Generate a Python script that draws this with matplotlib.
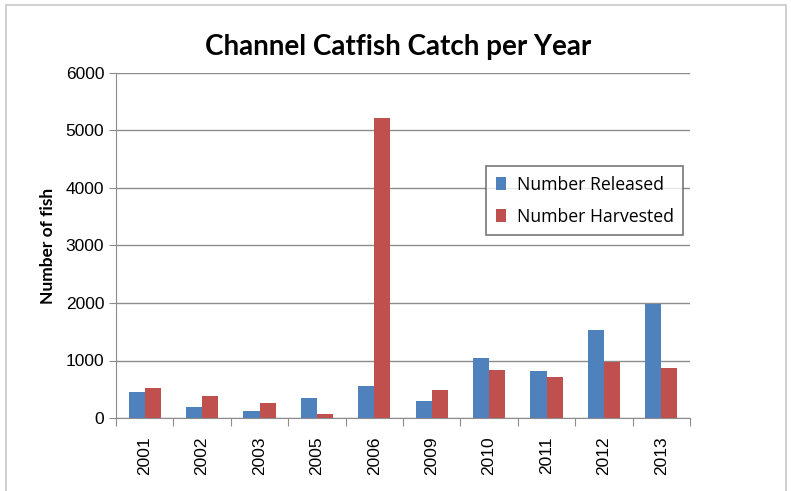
import numpy as np
import matplotlib.pyplot as plt
from matplotlib.patches import Rectangle

years = ['2001', '2002', '2003', '2005', '2006', '2009', '2010', '2011', '2012', '2013']
released = [445, 195, 130, 350, 550, 300, 1040, 815, 1525, 1990]
harvested = [515, 385, 260, 65, 5220, 490, 840, 710, 980, 870]

fig = plt.figure(figsize=(7.91, 4.91), dpi=100)
ax = fig.add_axes([116/791, 1-418/491, 574/791, 345/491])

# outer frame of the chart area
fig.patches.append(Rectangle((6/791, -0.05), 780/791, 1.04, transform=fig.transFigure,
                             fill=False, edgecolor='#c8c8c8', lw=1.2))

x = np.arange(len(years))
w = 0.28
ax.bar(x - w/2, released, w, color='#4F81BD', label='Number Released')
ax.bar(x + w/2, harvested, w, color='#C0504D', label='Number Harvested')

ax.set_xlim(-0.5, len(years) - 0.5)
ax.set_ylim(0, 6000)
ax.set_yticks(range(0, 6001, 1000))
ax.yaxis.grid(True, color='#8c8c8c', lw=1)
ax.set_axisbelow(True)

ax.set_xticks(np.arange(-0.5, len(years), 1))
ax.set_xticklabels([])
ax.set_xticks(x, minor=True)
ax.set_xticklabels(years, minor=True, rotation=90, fontsize=12.5, family='Liberation Sans')
ax.tick_params(axis='x', which='minor', length=0, pad=13)
ax.tick_params(axis='x', which='major', length=6, color='#8c8c8c')
ax.tick_params(axis='y', length=5, color='#8c8c8c', labelsize=12.5)
for lab in ax.get_yticklabels():
    lab.set_family('Liberation Sans')

for s in ['top', 'right']:
    ax.spines[s].set_visible(False)
for s in ['left', 'bottom']:
    ax.spines[s].set_color('#8c8c8c')

ax.set_ylabel('Number of fish', fontsize=12.5, fontweight='bold', family='Lato', labelpad=7)
fig.text(398/791, 1-47/491, 'Channel Catfish Catch per Year', ha='center', va='center',
         fontsize=20, fontweight='bold', family='Lato')

leg = ax.legend(loc='upper left', bbox_to_anchor=(361/574, 1-84/345), frameon=True,
                fancybox=False, edgecolor='#555555', handlelength=0.6,
                handleheight=0.7, handletextpad=0.6, borderpad=0.55, labelspacing=0.8,
                prop={'family': 'Open Sans', 'size': 12.7})
leg.get_frame().set_linewidth(1.2)

fig.savefig('out.png', dpi=100)
